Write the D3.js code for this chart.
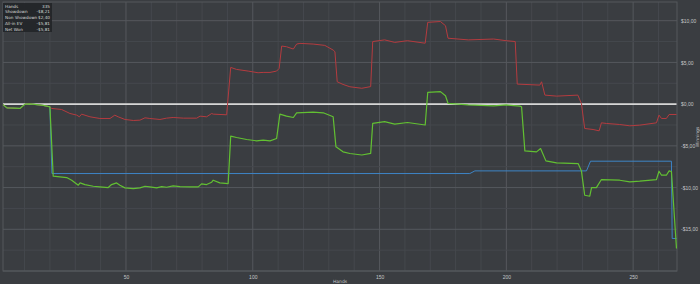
<!DOCTYPE html>
<html>
<head>
<meta charset="utf-8">
<script src="https://cdn.jsdelivr.net/npm/d3@7"></script>
<style>
  html, body { margin: 0; padding: 0; background: #3a3d41; }
  svg { display: block; font-family: "DejaVu Sans", sans-serif; }
</style>
</head>
<body>
<div id="chart"></div>
<script>
// =================================== DATA ===================================

// hands where the line changes, and winnings in dollars
const netHands = [1.5, 3, 8.2, 10.2, 12.1, 17.4, 20, 21.3, 26.6, 28.6, 31.2, 31.9, 33.8, 37.1, 39.7, 43, 44.3, 46.3, 47.6, 49.6, 52.9, 55.5, 57.5, 59.4, 62.1, 64.1, 66, 68.6, 71.3, 75.2, 78.5, 79.8, 81.8, 83.8, 84.4, 87, 90.3, 91.3, 93.6, 97.6, 101.5, 104.1, 106.8, 109.4, 110.7, 113.3, 116, 117.3, 123.8, 127.8, 131.7, 132.8, 135.6, 138.3, 143, 146.5, 147.3, 152, 156, 161, 168, 169, 174, 176, 177, 185, 195, 200, 205.3, 206, 207.3, 211.9, 213.5, 215.6, 219.8, 228.3, 229.6, 230.9, 232.9, 233.6, 235.5, 237.5, 244.7, 248.7, 252.6, 259.2, 260.2, 261.2, 263.1, 264.2, 265.1, 267.1]
const netWon = [-0.06, -0.44, -0.52, 0, 0.04, -0.16, -0.32, -8.64, -8.8, -9.12, -9.72, -9.44, -9.64, -9.84, -9.92, -10, -9.64, -9.44, -9.72, -10.04, -10.12, -10.04, -9.84, -9.92, -10.04, -9.88, -9.96, -9.8, -9.88, -9.92, -9.92, -9.56, -9.64, -9.36, -9.12, -9.44, -9.52, -3.84, -4, -4.24, -4.4, -4.32, -4.4, -4.12, -1.2, -1.44, -1.6, -1.04, -0.96, -1.04, -1.52, -5.12, -5.72, -5.92, -6.1, -5.9, -2.3, -2.1, -2.4, -2.2, -2.5, 1.4, 1.5, 1.0, 0.1, -0.1, -0.2, -0.1, -0.24, -0.32, -5.6, -5.72, -5.32, -6.8, -7.04, -7.12, -8, -10.92, -11.04, -10, -10, -9.04, -9.12, -9.32, -9.24, -9.04, -8.04, -8.52, -8.52, -8, -8.08, -17.3]

const nsdHands = [1.5, 3, 8.2, 10.2, 12.1, 17.4, 20, 20.7, 24.6, 27.9, 30.6, 31.6, 32.5, 35.8, 39.7, 43.7, 45.6, 46.9, 49.6, 52.9, 55.5, 57.5, 59.4, 63.4, 66, 68.6, 72.6, 77.9, 79.2, 81.8, 83.8, 84.4, 89.7, 91.3, 93.6, 98.2, 102.1, 104.1, 106.8, 109.4, 110.4, 111.4, 113.3, 116, 117.3, 118.6, 123.8, 128.4, 131.7, 132.4, 133.3, 135.6, 138.3, 143, 146.5, 147.3, 152, 156, 161, 168, 169, 174, 176, 177, 185, 195, 200, 203.5, 204.3, 213.2, 213.9, 215.2, 219.8, 228.2, 229.6, 230.9, 234.2, 236.6, 237.5, 239.5, 244.7, 248.7, 252.6, 259.2, 260.2, 261.2, 263.1, 264.2, 267.1]
const nonShowdown = [-0.06, -0.44, -0.52, 0, 0.04, -0.16, -0.32, -0.52, -0.64, -1.12, -1.32, -1.52, -1.2, -1.52, -1.72, -1.72, -1.32, -1.52, -1.84, -1.96, -1.92, -1.64, -1.72, -1.84, -1.68, -1.6, -1.68, -1.68, -1.44, -1.52, -1.12, -1.2, -1.28, 4.4, 4.16, 3.96, 3.76, 3.8, 3.8, 3.96, 4.28, 6.96, 6.88, 6.6, 7.2, 7.28, 7.2, 7.04, 6.48, 6.28, 2.68, 2.36, 2.08, 1.9, 2.1, 7.5, 7.7, 7.4, 7.6, 7.3, 9.8, 9.9, 9.4, 7.9, 7.7, 7.8, 7.6, 7.5, 2.4, 2.28, 2.68, 1.08, 0.96, 1.08, 0.08, -2.92, -3.04, -3.2, -2.24, -2.32, -2.44, -2.6, -2.52, -2.24, -1.32, -1.72, -1.72, -1.24, -1.24]

const evHands = [1.5, 3, 8.2, 10.2, 12.1, 17.4, 20, 20.8, 185.6, 187.6, 231.6, 233.2, 265.1, 265.4, 267.1]
const allInEV = [-0.06, -0.44, -0.52, 0, 0.04, -0.16, -0.32, -8.32, -8.32, -8, -8, -6.84, -6.84, -16.1, -16.1]

const zeroHands = [1.5, 267.1]
const zeroLine = [0, 0]

const xTicks = [50, 100, 150, 200, 250]
const yTicks = [10, 5, 0, -5, -10, -15]

const legendLabels = ["Hands", "Showdown", "Non Showdown", "All-in EV", "Net Won"]
const legendValues = ["335", "-$8,21", "$2,40", "-$5,81", "-$5,81"]

// =================================== GRAPH SETTINGS ===================================

const width = 700
const height = 284
const plot = { left: 3, right: 677, top: 2, bottom: 271 }

const svg = d3.select('#chart').append('svg')
  .attr('width', width)
  .attr('height', height)

svg.append('rect').attr('width', width).attr('height', height).attr('fill', '#3a3d41')

const x = d3.scaleLinear().domain([1.5, 267.3]).range([plot.left, plot.right])
const y = d3.scaleLinear().domain([-20.0, 12.24]).range([plot.bottom, plot.top])

const money = v => (v < 0 ? '-$' : '$') + Math.abs(v).toFixed(2).replace('.', ',')

// =================================== GRID ===================================

const grid = svg.append('g')
d3.range(10, 268, 10).forEach(h => {
  grid.append('line')
    .attr('x1', x(h)).attr('x2', x(h)).attr('y1', plot.top).attr('y2', plot.bottom)
    .attr('stroke', h % 50 === 0 ? '#55585d' : '#45484d').attr('stroke-width', 1)
})
d3.range(-20, 12.5, 2.5).forEach(v => {
  grid.append('line')
    .attr('x1', plot.left).attr('x2', plot.right).attr('y1', y(v)).attr('y2', y(v))
    .attr('stroke', v % 5 === 0 ? '#55585d' : '#45484d').attr('stroke-width', 1)
})
svg.append('rect')
  .attr('x', plot.left).attr('y', plot.top)
  .attr('width', plot.right - plot.left).attr('height', plot.bottom - plot.top)
  .attr('fill', 'none').attr('stroke', '#55585d')

// =================================== AXES ===================================

const xAxis = svg.append('g')
  .attr('transform', `translate(0,${plot.bottom})`)
  .call(d3.axisBottom(x).tickValues(xTicks).tickSize(0).tickPadding(4))
const yAxis = svg.append('g')
  .attr('transform', `translate(${plot.right},0)`)
  .call(d3.axisRight(y).tickValues(yTicks).tickSize(0).tickPadding(4).tickFormat(money))
;[xAxis, yAxis].forEach(a => {
  a.select('.domain').remove()
  a.selectAll('text').attr('fill', '#c4c6c8').style('font-size', '5px')
})

// axis titles, kept tight against the bottom and right edges
svg.append('text')
  .attr('x', 340).attr('y', 283)
  .attr('text-anchor', 'middle')
  .attr('fill', '#c4c6c8').style('font-size', '4.5px')
  .text('Hands')
svg.append('text')
  .attr('transform', 'translate(698.5,137) rotate(-90)')
  .attr('text-anchor', 'middle')
  .attr('fill', '#c4c6c8').style('font-size', '4.5px')
  .text('Winnings')

// =================================== LINES ===================================

const series = [
  { hands: zeroHands, values: zeroLine, color: '#d6d6d6', w: 1.6 },
  { hands: evHands, values: allInEV, color: '#3d84c6', w: 1 },
  { hands: nsdHands, values: nonShowdown, color: '#b43b3f', w: 1 },
  { hands: netHands, values: netWon, color: '#62c032', w: 1.2 }
]
const line = d3.line().x(d => x(d[0])).y(d => y(d[1]))
series.forEach(s => {
  svg.append('path')
    .datum(d3.zip(s.hands, s.values))
    .attr('d', line)
    .attr('fill', 'none')
    .attr('stroke', s.color)
    .attr('stroke-width', s.w)
    .attr('stroke-linejoin', 'round')
})

// =================================== LEGEND ===================================

const legend = svg.append('g').attr('transform', 'translate(3,3)')
legend.append('rect').attr('width', 49).attr('height', 29).attr('fill', '#232528').attr('opacity', 0.92)
legendLabels.forEach((l, i) => {
  legend.append('text').attr('x', 2).attr('y', 4.5 + i * 5.8)
    .attr('fill', '#d8d8d8').style('font-size', '4.2px').text(l)
  legend.append('text').attr('x', 47).attr('y', 4.5 + i * 5.8)
    .attr('text-anchor', 'end')
    .attr('fill', '#d8d8d8').style('font-size', '4.2px').text(legendValues[i])
})
</script>
</body>
</html>
